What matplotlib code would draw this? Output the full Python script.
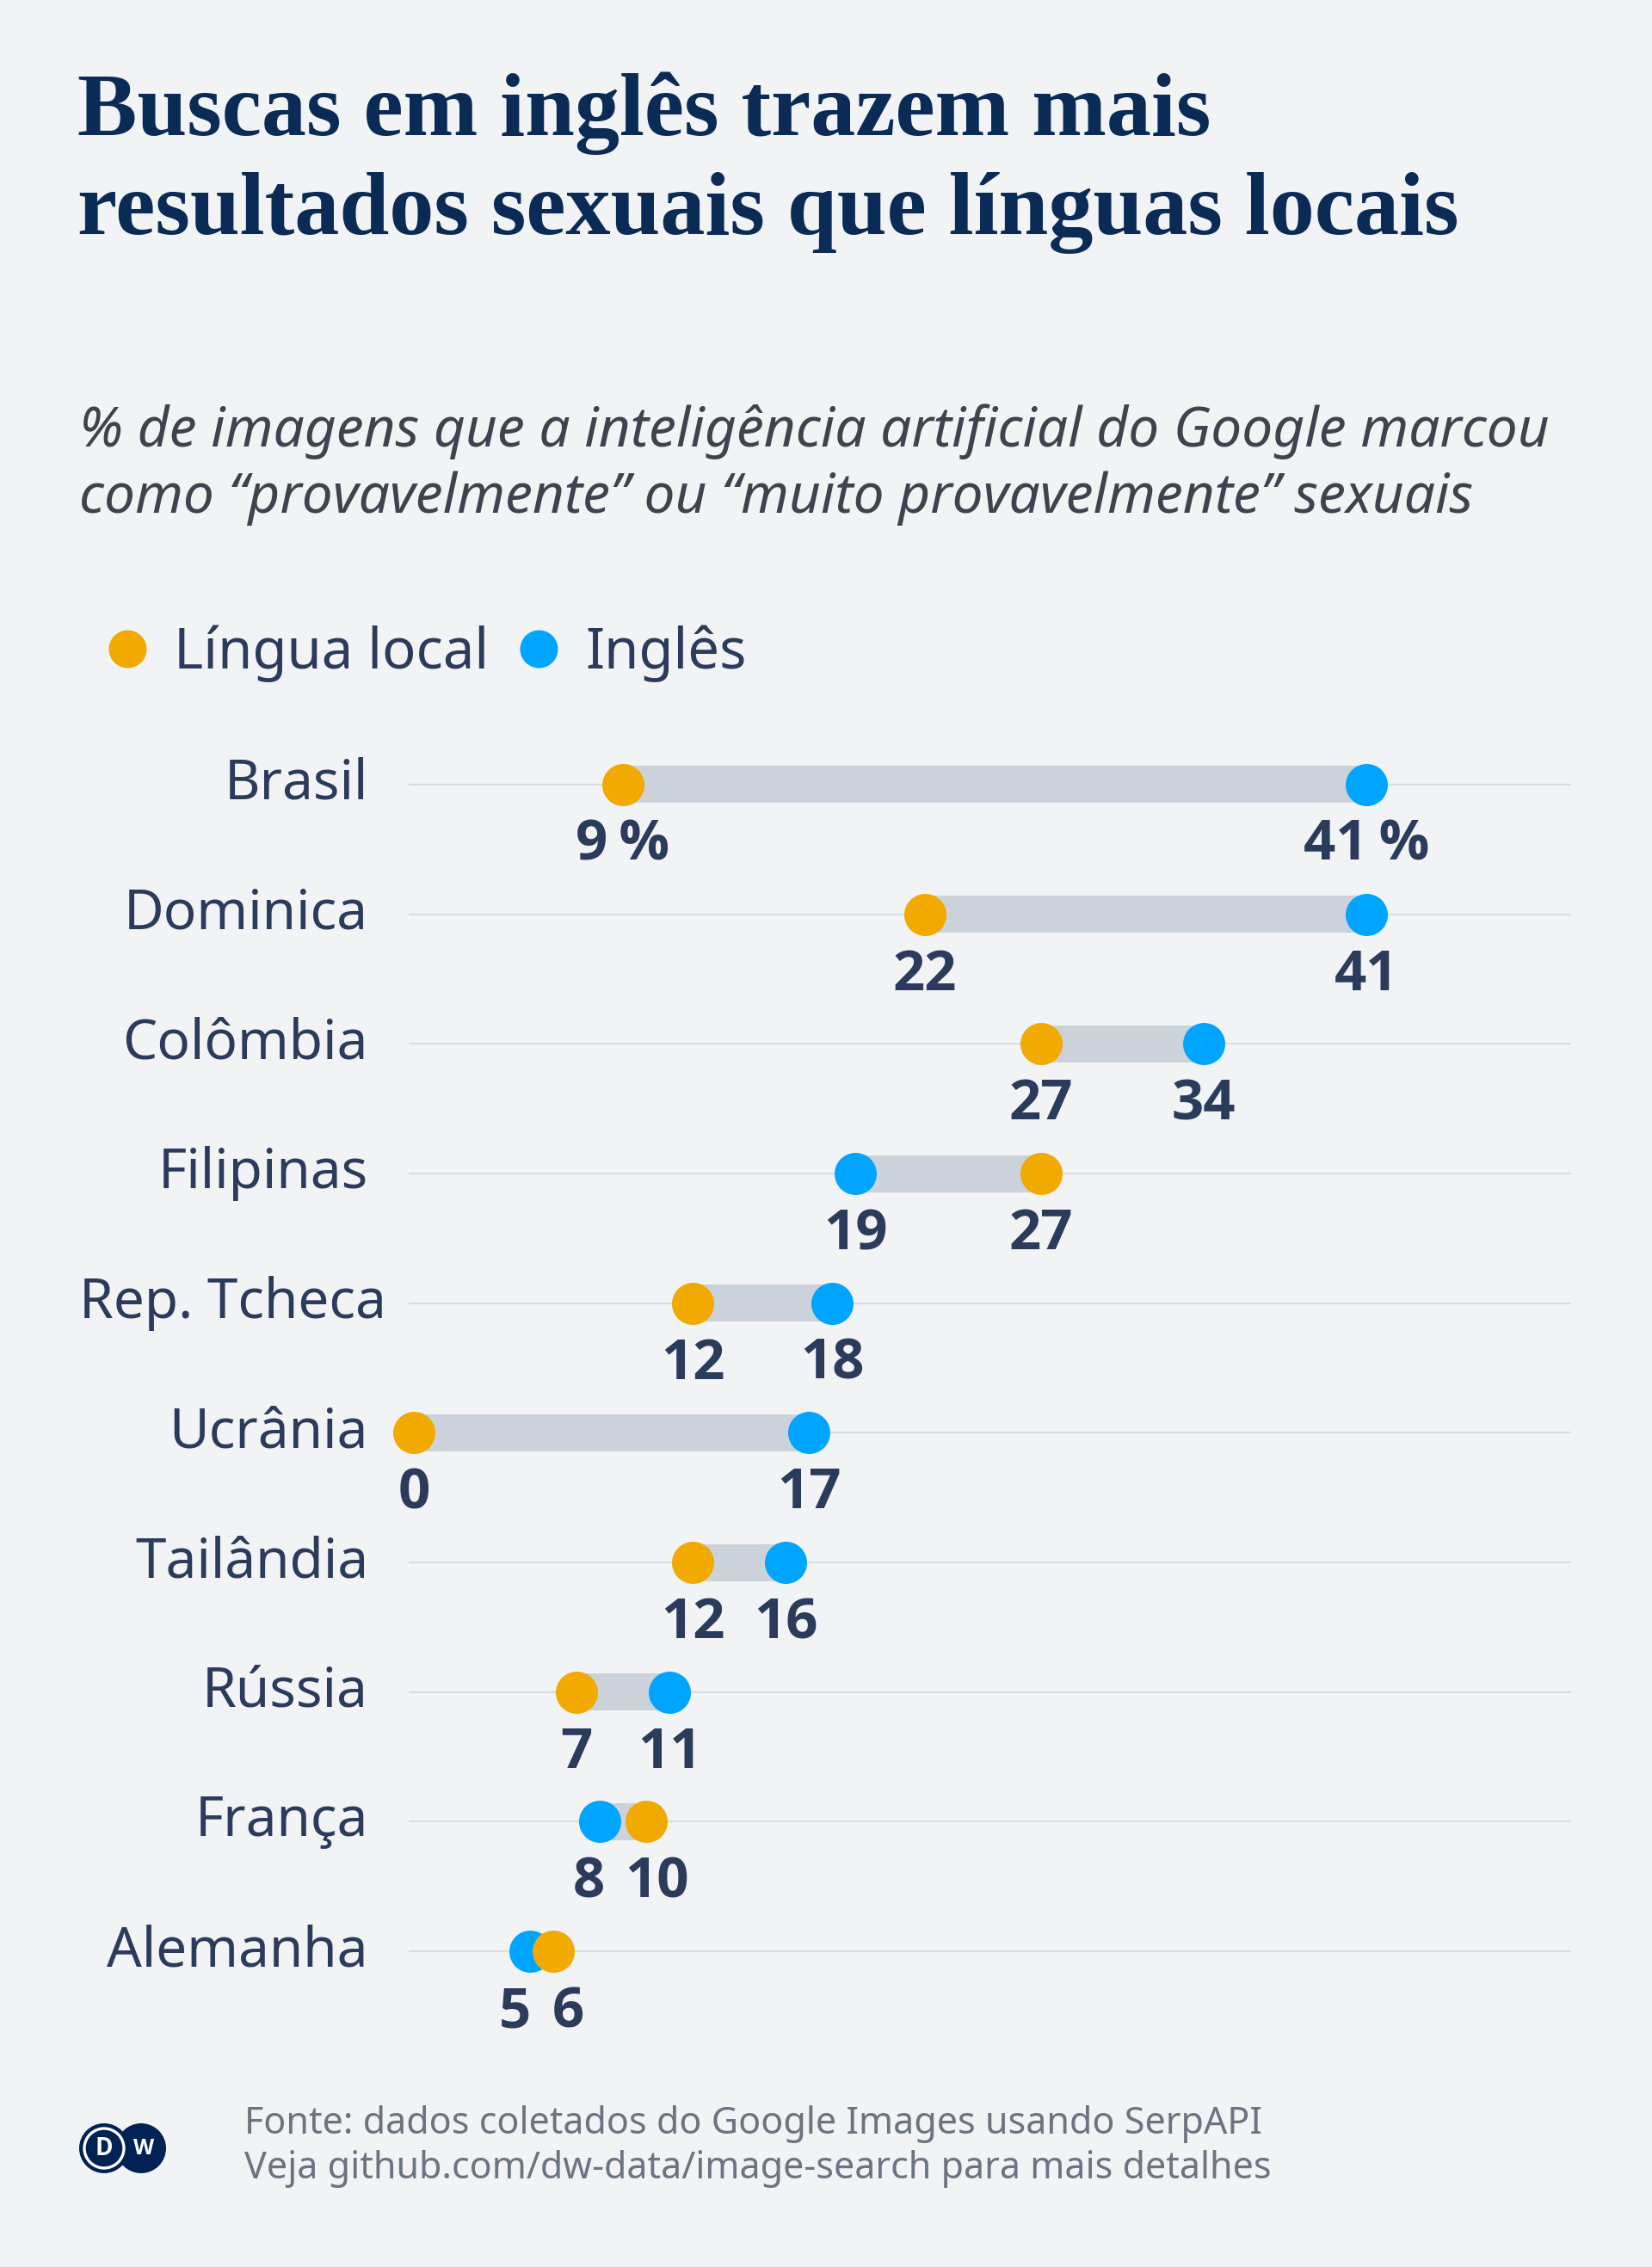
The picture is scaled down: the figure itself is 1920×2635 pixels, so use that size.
import matplotlib
matplotlib.use("Agg")
import matplotlib.pyplot as plt
from matplotlib.lines import Line2D
from matplotlib.patches import Circle
from matplotlib.transforms import blended_transform_factory

# ---------------- data ----------------
countries = ["Brasil", "Dominica", "Colômbia", "Filipinas", "Rep. Tcheca",
             "Ucrânia", "Tailândia", "Rússia", "França", "Alemanha"]
local_lang = [9, 22, 27, 27, 12, 0, 12, 7, 10, 6]
english = [41, 41, 34, 19, 18, 17, 16, 11, 8, 5]
series_names = ["Língua local", "Inglês"]

title_lines = ["Buscas em inglês trazem mais",
               "resultados sexuais que línguas locais"]
subtitle_lines = ["% de imagens que a inteligência artificial do Google marcou",
                  "como “provavelmente” ou “muito provavelmente” sexuais"]
footer_lines = ["Fonte: dados coletados do Google Images usando SerpAPI",
                "Veja github.com/dw-data/image-search para mais detalhes"]

# ---------------- style ----------------
W, H = 1920, 2635
BG = "#f1f3f5"
NAVY = "#0b2b57"
TEXT = "#2b3b5b"
SUB = "#3d444e"
FOOT = "#6b7480"
ORANGE = "#f2a900"
BLUE = "#00a5ff"
BAR = "#cbd2d9"
GRID = "#d9dde2"
SANS = ["Noto Sans", "DejaVu Sans"]
BOLD_SANS = ["Open Sans", "Noto Sans", "DejaVu Sans"]

plt.rcParams["font.family"] = SANS

fig = plt.figure(figsize=(W / 100, H / 100), dpi=100, facecolor=BG)


def fx(px):
    return px / W


def fy(py):
    return 1 - py / H


# Title
for k, line in enumerate(title_lines):
    fig.text(fx(90), fy(157 + k * 115), line, fontsize=75, weight="bold",
             family=["Liberation Serif", "DejaVu Serif"], color=NAVY,
             ha="left", va="baseline")

# Subtitle
for k, line in enumerate(subtitle_lines):
    fig.text(fx(92), fy(519 + k * 77), line, fontsize=46, style="italic",
             family=SANS, color=SUB, ha="left", va="baseline")

# ---------------- chart axes ----------------
px0, kx = 481.0, 27.0        # pixel of value 0, pixels per unit
row0, drow = 912.0, 150.67    # pixel of first row, row spacing
ax_l, ax_r, ax_t, ax_b = 475, 1826, 830, 2350
ax = fig.add_axes([fx(ax_l), fy(ax_b), (ax_r - ax_l) / W, (ax_b - ax_t) / H])
ax.set_facecolor("none")
ax.set_xlim((ax_l - px0) / kx, (ax_r - px0) / kx)
ax.set_ylim((ax_b - row0) / drow, (ax_t - row0) / drow)
for s in ax.spines.values():
    s.set_visible(False)
ax.set_xticks([])
ax.set_yticks(range(len(countries)))
ax.tick_params(left=False, labelleft=False)
ax.grid(axis="y", color=GRID, linewidth=1.5, zorder=0)

ypos = list(range(len(countries)))
lo = [min(a, b) for a, b in zip(local_lang, english)]
hi = [max(a, b) for a, b in zip(local_lang, english)]
ax.barh(ypos, [h - l for h, l in zip(hi, lo)], left=lo, height=43 / drow,
        color=BAR, zorder=2)
dot_s = (49 * 0.72) ** 2
ax.scatter(english, ypos, s=dot_s, color=BLUE, linewidths=0, zorder=3,
           clip_on=False)
ax.scatter(local_lang, ypos, s=dot_s, color=ORANGE, linewidths=0, zorder=4,
           clip_on=False)

fig.canvas.draw()
r = fig.canvas.get_renderer()

# Country labels
tr = blended_transform_factory(fig.transFigure, ax.transData)
for i, c in enumerate(countries):
    t = ax.text(fx(428), i, c, transform=tr, ha="right", va="center",
                fontsize=46, color=TEXT)
    bb = t.get_window_extent(r)
    if bb.x0 < 92:
        t.set_ha("left")
        t.set_x(fx(92))

# Value labels with simple overlap avoidance
VAL_FS = 47


def label_txt(v, i):
    return f"{v}\u2009%" if i == 0 else f"{v}"


def text_w(s):
    t = ax.text(0, 0, s, fontsize=VAL_FS, weight="bold", family=BOLD_SANS)
    w = t.get_window_extent(r).width
    t.remove()
    return w


GAP = 24
for i in ypos:
    vals = [local_lang[i], english[i]]
    strs = [label_txt(v, i) for v in vals]
    pxs = [ax.transData.transform((v, i))[0] for v in vals]
    ws = [text_w(s) for s in strs]
    a, b = sorted(range(2), key=lambda j: pxs[j])
    need = (ws[a] + ws[b]) / 2 + GAP
    dist = pxs[b] - pxs[a]
    shift = max(0.0, (need - dist) / 2)
    offs = {a: -shift, b: shift}
    for j in range(2):
        ax.annotate(strs[j], xy=(vals[j], i), xytext=(offs[j], -88),
                    textcoords="offset pixels", ha="center", va="baseline",
                    fontsize=VAL_FS, weight="bold", family=BOLD_SANS,
                    color=TEXT, annotation_clip=False)

# Legend
handles = [Line2D([], [], marker="o", linestyle="", markersize=44 * 0.72,
                  markerfacecolor=col, markeredgewidth=0)
           for col in (ORANGE, BLUE)]
fig.legend(handles, series_names, loc="center left",
           bbox_to_anchor=(fx(126), fy(760)), ncol=2, frameon=False,
           fontsize=47, handlelength=0.67, handletextpad=0.5,
           columnspacing=0.55, borderpad=0, borderaxespad=0,
           labelcolor=TEXT)

# Footer
for k, line in enumerate(footer_lines):
    fig.text(fx(284), fy(2480 + k * 52), line, fontsize=31, color=FOOT,
             ha="left", va="baseline")

# DW logo
lx0, lx1, ly0, ly1 = 86, 200, 2464, 2530
lax = fig.add_axes([fx(lx0), fy(ly1), (lx1 - lx0) / W, (ly1 - ly0) / H])
lax.set_xlim(lx0, lx1)
lax.set_ylim(ly1, ly0)
lax.axis("off")
LOGO = "#002255"
lax.add_patch(Circle((164, 2497), 29, color=LOGO, lw=0))
lax.add_patch(Circle((121, 2497), 29, color=LOGO, lw=0))
lax.add_patch(Circle((121, 2497), 23, fill=False, edgecolor="white", lw=2.4))
lax.text(121, 2498, "D", color="white", fontsize=20, weight="bold",
         family=BOLD_SANS, ha="center", va="center")
lax.text(167, 2498, "W", color="white", fontsize=18, weight="bold",
         family=BOLD_SANS, ha="center", va="center")

fig.savefig("out.png", dpi=100, facecolor=BG)
